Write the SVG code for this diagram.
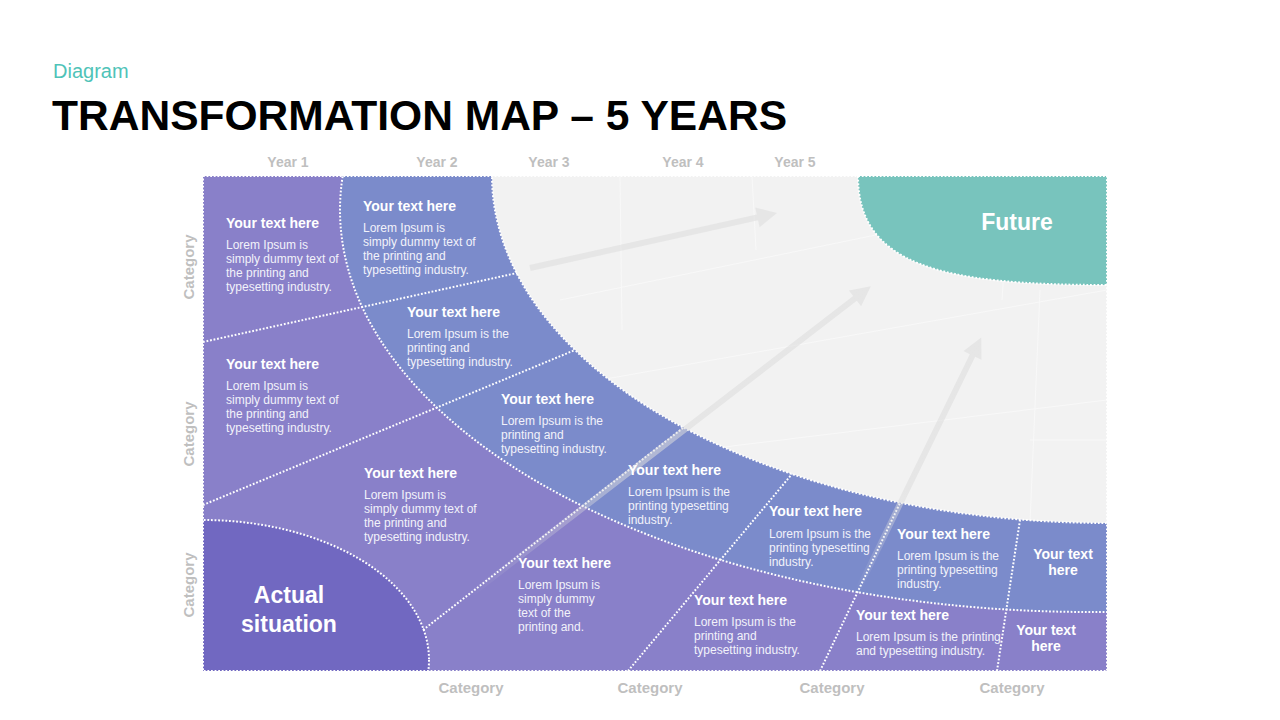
<svg xmlns="http://www.w3.org/2000/svg" width="1280" height="720" viewBox="0 0 1280 720">
<defs>
<clipPath id="clipMap"><rect x="203" y="176" width="904" height="495"/></clipPath>
<clipPath id="clipGray"><ellipse cx="1107" cy="176" rx="615" ry="347"/></clipPath>
<linearGradient id="fade" x1="0" y1="0" x2="1" y2="0">
<stop offset="0" stop-color="#dcdcdc" stop-opacity="0"/>
<stop offset="0.4" stop-color="#dcdcdc" stop-opacity="1"/>
<stop offset="1" stop-color="#dcdcdc" stop-opacity="1"/>
</linearGradient>
<style>
.ttl{font-family:"Liberation Sans",Arial,sans-serif;font-weight:bold;font-size:14px;fill:#ffffff;}
.body{font-family:"Liberation Sans",Arial,sans-serif;font-size:12px;fill:#f2f2fa;}
.axis{font-family:"Liberation Sans",Arial,sans-serif;font-weight:bold;font-size:14px;fill:#bfbfbf;}
.cat{font-family:"Liberation Sans",Arial,sans-serif;font-weight:bold;font-size:15px;fill:#bfbfbf;text-anchor:middle;}
.big{font-family:"Liberation Sans",Arial,sans-serif;font-weight:bold;font-size:23px;fill:#ffffff;text-anchor:middle;}
.dot{fill:none;stroke:#ffffff;stroke-width:2;stroke-dasharray:1.8 1.8;}
.grid{fill:none;stroke:#f8f8f8;stroke-width:1;}
.arrow{fill:#dcdcdc;opacity:0.55;}
.arrowf{fill:url(#fade);opacity:0.55;}
</style>
</defs>
<rect x="0" y="0" width="1280" height="720" fill="#ffffff"/>

<g id="header">
<text x="53" y="78" font-family="Liberation Sans, Arial, sans-serif" font-size="20" fill="#4fc3b8">Diagram</text>
<text x="52" y="130" font-family="Liberation Sans, Arial, sans-serif" font-size="43" font-weight="bold" fill="#000000" textLength="735" lengthAdjust="spacingAndGlyphs">TRANSFORMATION MAP – 5 YEARS</text>
</g>

<g id="axis-labels">
<text class="axis" x="288" y="167" text-anchor="middle">Year 1</text>
<text class="axis" x="437" y="167" text-anchor="middle">Year 2</text>
<text class="axis" x="549" y="167" text-anchor="middle">Year 3</text>
<text class="axis" x="683" y="167" text-anchor="middle">Year 4</text>
<text class="axis" x="795" y="167" text-anchor="middle">Year 5</text>
<text class="cat" transform="translate(194,267) rotate(-90)">Category</text>
<text class="cat" transform="translate(194,434) rotate(-90)">Category</text>
<text class="cat" transform="translate(194,585) rotate(-90)">Category</text>
<text class="cat" x="471" y="693">Category</text>
<text class="cat" x="650" y="693">Category</text>
<text class="cat" x="832" y="693">Category</text>
<text class="cat" x="1012" y="693">Category</text>
</g>

<g id="map-background" clip-path="url(#clipMap)">
<rect x="203" y="176" width="904" height="495" fill="#8980c9"/>
<ellipse id="band-blue" cx="1090" cy="210" rx="750" ry="402" fill="#7b8bcb"/>
<ellipse id="future-zone" cx="1107" cy="176" rx="615" ry="347" fill="#f2f2f2"/>
<g clip-path="url(#clipGray)">
<line class="grid" x1="620" y1="176" x2="622" y2="330"/>
<line class="grid" x1="752" y1="176" x2="756" y2="250"/>
<line class="grid" x1="1040" y1="290" x2="1030" y2="523"/>
<line class="grid" x1="1010" y1="176" x2="1002" y2="300"/>
<line class="grid" x1="1030" y1="440" x2="1107" y2="440"/>
<line class="grid" x1="600" y1="380" x2="1107" y2="290"/>
<line class="grid" x1="700" y1="450" x2="1107" y2="400"/>
<line class="grid" x1="560" y1="300" x2="900" y2="230"/>
</g>
</g>

<g id="future">
<path d="M858,176 C858,265 940,285 1107,285 L1107,176 Z" fill="#78c4bd"/>
<path class="dot" d="M858,176 C858,265 940,285 1107,285"/>
<text class="big" x="1017" y="230">Future</text>
</g>

<g id="actual-situation" clip-path="url(#clipMap)">
<ellipse cx="203" cy="660" rx="226" ry="140" fill="#7168c1"/>
</g>

<g id="connectors">
<g clip-path="url(#clipMap)">
<ellipse class="dot" cx="1090" cy="210" rx="750" ry="402"/>
<ellipse class="dot" cx="1107" cy="176" rx="615" ry="347"/>
<ellipse class="dot" cx="203" cy="660" rx="226" ry="140"/>
</g>
<line class="dot" x1="203" y1="342" x2="517" y2="273"/>
<line class="dot" x1="203" y1="505" x2="575" y2="350"/>
<line class="dot" x1="423" y1="630" x2="683" y2="428"/>
<line class="dot" x1="628" y1="671" x2="792" y2="474"/>
<line class="dot" x1="820" y1="671" x2="900" y2="503"/>
<line class="dot" x1="997" y1="671" x2="1020" y2="520"/>
<rect class="dot" x="203" y="176" width="904" height="495"/>
</g>

<g id="arrows">
<g transform="translate(530,268) rotate(-12.55)"><path class="arrow" d="M0,-3 L233,-3 L233,-10 L253,0 L233,10 L233,3 L0,3 Z"/></g>
<g transform="translate(470,595) rotate(-37.61)"><path class="arrowf" d="M0,-3 L486,-3 L486,-10 L506,0 L486,10 L486,3 L0,3 Z"/></g>
<g transform="translate(858,590) rotate(-63.98)"><path class="arrowf" d="M0,-3 L261,-3 L261,-10 L281,0 L261,10 L261,3 L0,3 Z"/></g>
</g>

<g id="actual-label"><text class="big" x="289" y="603">Actual</text><text class="big" x="289" y="632">situation</text></g>

<g id="cell-1"><text class="ttl" x="226" y="228">Your text here</text>
<text class="body" x="226" y="249">Lorem Ipsum is</text><text class="body" x="226" y="263">simply dummy text of</text><text class="body" x="226" y="277">the printing and</text><text class="body" x="226" y="291">typesetting industry.</text></g>

<g id="cell-2"><text class="ttl" x="363" y="211">Your text here</text>
<text class="body" x="363" y="232">Lorem Ipsum is</text><text class="body" x="363" y="246">simply dummy text of</text><text class="body" x="363" y="260">the printing and</text><text class="body" x="363" y="274">typesetting industry.</text></g>

<g id="cell-3"><text class="ttl" x="407" y="317">Your text here</text>
<text class="body" x="407" y="338">Lorem Ipsum is the</text><text class="body" x="407" y="352">printing and</text><text class="body" x="407" y="366">typesetting industry.</text></g>

<g id="cell-4"><text class="ttl" x="226" y="369">Your text here</text>
<text class="body" x="226" y="390">Lorem Ipsum is</text><text class="body" x="226" y="404">simply dummy text of</text><text class="body" x="226" y="418">the printing and</text><text class="body" x="226" y="432">typesetting industry.</text></g>

<g id="cell-5"><text class="ttl" x="501" y="404">Your text here</text>
<text class="body" x="501" y="425">Lorem Ipsum is the</text><text class="body" x="501" y="439">printing and</text><text class="body" x="501" y="453">typesetting industry.</text></g>

<g id="cell-6"><text class="ttl" x="364" y="478">Your text here</text>
<text class="body" x="364" y="499">Lorem Ipsum is</text><text class="body" x="364" y="513">simply dummy text of</text><text class="body" x="364" y="527">the printing and</text><text class="body" x="364" y="541">typesetting industry.</text></g>

<g id="cell-7"><text class="ttl" x="628" y="475">Your text here</text>
<text class="body" x="628" y="496">Lorem Ipsum is the</text><text class="body" x="628" y="510">printing typesetting</text><text class="body" x="628" y="524">industry.</text></g>

<g id="cell-8"><text class="ttl" x="518" y="568">Your text here</text>
<text class="body" x="518" y="589">Lorem Ipsum is</text><text class="body" x="518" y="603">simply dummy</text><text class="body" x="518" y="617">text  of the</text><text class="body" x="518" y="631">printing and.</text></g>

<g id="cell-9"><text class="ttl" x="769" y="516">Your text here</text>
<text class="body" x="769" y="538">Lorem Ipsum is the</text><text class="body" x="769" y="552">printing typesetting</text><text class="body" x="769" y="566">industry.</text></g>

<g id="cell-10"><text class="ttl" x="694" y="605">Your text here</text>
<text class="body" x="694" y="626">Lorem Ipsum is the</text><text class="body" x="694" y="640">printing and</text><text class="body" x="694" y="654">typesetting industry.</text></g>

<g id="cell-11"><text class="ttl" x="897" y="539">Your text here</text>
<text class="body" x="897" y="560">Lorem Ipsum is the</text><text class="body" x="897" y="574">printing typesetting</text><text class="body" x="897" y="588">industry.</text></g>

<g id="cell-12"><text class="ttl" x="856" y="620">Your text here</text>
<text class="body" x="856" y="641">Lorem Ipsum is the printing</text><text class="body" x="856" y="655">and typesetting industry.</text></g>

<g id="cell-13"><text class="ttl" x="1063" y="559" text-anchor="middle">Your text</text><text class="ttl" x="1063" y="575" text-anchor="middle">here</text></g>

<g id="cell-14"><text class="ttl" x="1046" y="635" text-anchor="middle">Your text</text><text class="ttl" x="1046" y="651" text-anchor="middle">here</text></g>
</svg>
